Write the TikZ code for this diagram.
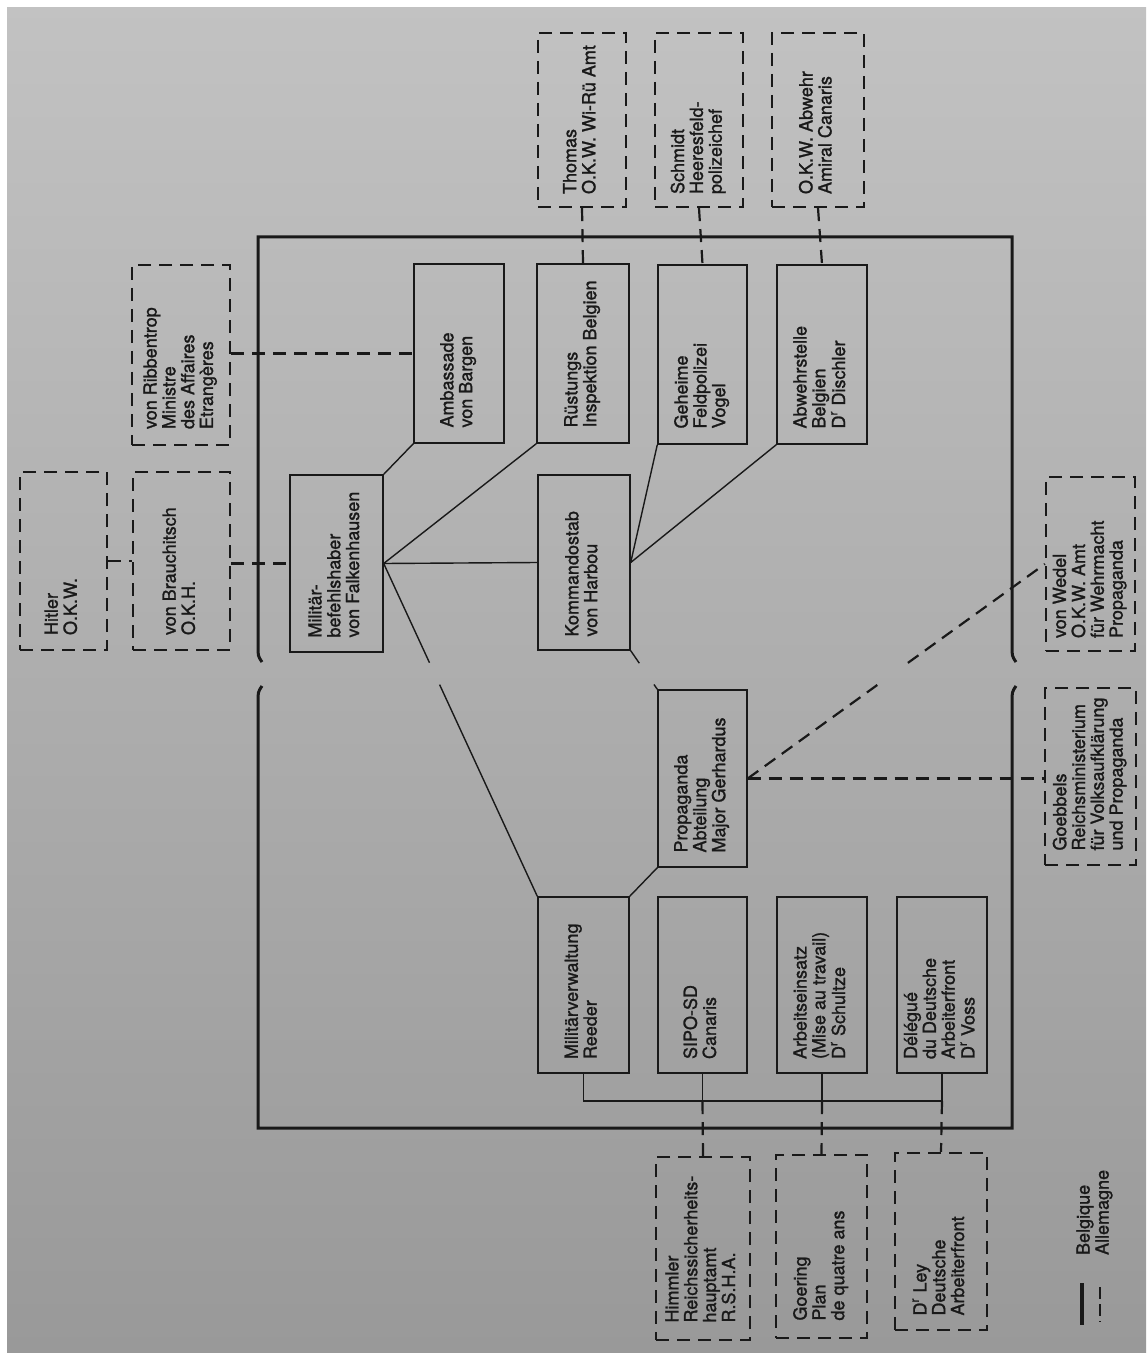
\documentclass[tikz,border=0pt]{standalone}
\usepackage{fontspec}
\setmainfont{TeX Gyre Heros}
\newfontfamily\chartfont{TeX Gyre Heros}[FakeBold=1.4]
\usepackage{graphicx}
\definecolor{ink}{gray}{0.1}
\definecolor{paperhi}{gray}{0.76}
\definecolor{paperlo}{gray}{0.6}
\newcommand{\vt}[1]{\rotatebox{90}{\makebox[74pt][l]{\begin{tabular}{@{}l@{}}#1\end{tabular}}}}
\tikzset{
  sbox/.style 2 args={draw=ink,line width=.7pt,minimum width=#1,minimum height=#2,inner sep=0pt},
  dbox/.style 2 args={draw=ink,line width=1.1pt,dash pattern=on 6.5pt off 4pt,minimum width=#1,minimum height=#2,inner sep=0pt},
  link/.style={draw=ink,line width=.7pt},
  dlink/.style={draw=ink,line width=1.1pt,dash pattern=on 6.5pt off 4pt},
  frame/.style={draw=ink,line width=1.5pt},
}
\begin{document}
\begin{tikzpicture}[x=0.5pt,y=-0.5pt]
    \useasboundingbox (0,0) rectangle (1146,1353);
    \fill[white] (0,0) rectangle (1146,1353);
    \shade[top color=paperhi,bottom color=paperlo] (7,8) rectangle (1146,1353);
    \draw[frame] (262,662) .. controls (258,656) .. (258,646) -- (258,237) -- (1012,237) -- (1012,646) .. controls (1012,656) .. (1016,662);
    \draw[frame] (262,686) .. controls (258,692) .. (258,702) -- (258,1128) -- (1012,1128) -- (1012,702) .. controls (1012,692) .. (1016,686);
    \begin{scope}[every node/.style={font=\chartfont\fontsize{9}{9.4}\selectfont,text=ink}]
        \node[sbox={46.5pt}{88.5pt}] (MBH) at (336.5,563.5) {\vt{Militär-\\befehlshaber\\von Falkenhausen}};
        \node[sbox={45pt}{89.5pt}] (AMB) at (459,353.5) {\vt{Ambassade\\von Bargen}};
        \node[sbox={46pt}{89.5pt}] (RUE) at (583,353.5) {\vt{Rüstungs\\Inspektion Belgien}};
        \node[sbox={44.5pt}{89.5pt}] (GFP) at (702.5,354.5) {\vt{Geheime\\Feldpolizei\\Vogel}};
        \node[sbox={45pt}{89.5pt}] (ABW) at (822,354.5) {\vt{Abwehrstelle\\Belgien\\D\textsuperscript{r} Dischler}};
        \node[sbox={46pt}{87.5pt}] (KOM) at (584,562.5) {\vt{Kommandostab\\von Harbou}};
        \node[sbox={44.5pt}{88.5pt}] (PROP) at (702.5,778.5) {\vt{Propaganda\\Abteilung\\Major Gerhardus}};
        \node[sbox={45.5pt}{88pt}] (MV) at (583.5,985) {\vt{Militärverwaltung\\Reeder}};
        \node[sbox={44.5pt}{88pt}] (SIPO) at (702.5,985) {\vt{SIPO-SD\\Canaris}};
        \node[sbox={45pt}{88pt}] (ARB) at (822,985) {\vt{Arbeitseinsatz\\(Mise au travail)\\D\textsuperscript{r} Schultze}};
        \node[sbox={45pt}{88pt}] (DAF) at (942,985) {\vt{Délégué\\du Deutsche\\Arbeiterfront\\D\textsuperscript{r} Voss}};
        \node[dbox={43.5pt}{89pt}] (HIT) at (63.5,561) {\vt{Hitler\\O.K.W.}};
        \node[dbox={48.5pt}{89pt}] (BRA) at (181.5,561) {\vt{von Brauchitsch\\O.K.H.}};
        \node[dbox={49pt}{90pt}] (RIB) at (181,355) {\vt{von Ribbentrop\\Ministre\\des Affaires\\Etrangères}};
        \node[dbox={44pt}{87pt}] (THO) at (582,120) {\vt{Thomas\\O.K.W. Wi-Rü Amt}};
        \node[dbox={44pt}{87pt}] (SCH) at (699,120) {\vt{Schmidt\\Heeresfeld-\\polizeichef}};
        \node[dbox={46pt}{87pt}] (OKW) at (818,120) {\vt{O.K.W. Abwehr\\Amiral Canaris}};
        \node[dbox={44.5pt}{87pt}] (WED) at (1090.5,564) {\vt{von Wedel\\O.K.W. Amt\\für Wehrmacht\\Propaganda}};
        \node[dbox={45.5pt}{88.5pt}] (GOE) at (1090.5,776.5) {\vt{Goebbels\\Reichsministerium\\für Volksaufklärung\\und Propaganda}};
        \node[dbox={47pt}{91.5pt}] (HIM) at (703,1248.5) {\vt{Himmler\\Reichssicherheits-\\hauptamt\\R.S.H.A.}};
        \node[dbox={45.5pt}{91.5pt}] (GOR) at (821.5,1246.5) {\vt{Goering\\Plan\\de quatre ans}};
        \node[dbox={46pt}{88.5pt}] (LEY) at (941,1241.5) {\vt{D\textsuperscript{r} Ley\\Deutsche\\Arbeiterfront}};
        \node[rotate=90,anchor=west] (LBE) at (1085,1262) {Belgique};
        \node[rotate=90,anchor=west] (LAL) at (1104,1262) {Allemagne};
    \end{scope}
    \coordinate (BUS) at (583.5,1101);
    \path (MBH.east) -- coordinate[pos=.298] (G1) coordinate[pos=.364] (G2) (MV.north west);
    \path (KOM.south east) -- coordinate[pos=.325] (G3) coordinate[pos=.875] (G4) (PROP.north west);
    \path (PROP.east) -- coordinate[pos=.436] (G5) coordinate[pos=.539] (G6) (WED.west);
    \begin{scope}[link]
        \draw (MBH.north east) -- (AMB.south west);
        \draw (MBH.east) -- (RUE.south west);
        \draw (MBH.east) -- (KOM.west);
        \draw (MBH.east) -- (G1) (G2) -- (MV.north west);
        \draw (KOM.east) -- (GFP.south west);
        \draw (KOM.east) -- (ABW.south west);
        \draw (KOM.south east) -- (G3) (G4) -- (PROP.north west);
        \draw (PROP.south west) -- (MV.north east);
        \draw (MV.south) -- (MV.south |- BUS) -- (DAF.south |- BUS) -- (DAF.south);
        \draw (SIPO.south) -- (SIPO.south |- BUS);
        \draw (ARB.south) -- (ARB.south |- BUS);
    \end{scope}
    \begin{scope}[dlink]
        \draw (HIT.east) -- (BRA.west);
        \draw (MBH.west -| BRA.east) -- (MBH.west);
        \draw (AMB.west -| RIB.east) -- (AMB.west);
        \draw (THO.south) -- (RUE.north);
        \draw (SCH.south) -- (GFP.north);
        \draw (OKW.south) -- (ABW.north);
        \draw (PROP.east) -- (PROP.east -| GOE.west);
        \draw (PROP.east) -- (G5) (G6) -- (WED.west);
        \draw (SIPO.south |- BUS) -- (HIM.north);
        \draw (ARB.south |- BUS) -- (GOR.north);
        \draw (DAF.south |- BUS) -- (LEY.north);
    \end{scope}
    \draw[ink,line width=2pt] (LBE.west) ++(-3,21) -- ++(0,42);
    \draw[dlink,dash pattern=on 6pt off 2.5pt] (LAL.west) ++(-4,25) -- ++(0,35);
\end{tikzpicture}
\end{document}
